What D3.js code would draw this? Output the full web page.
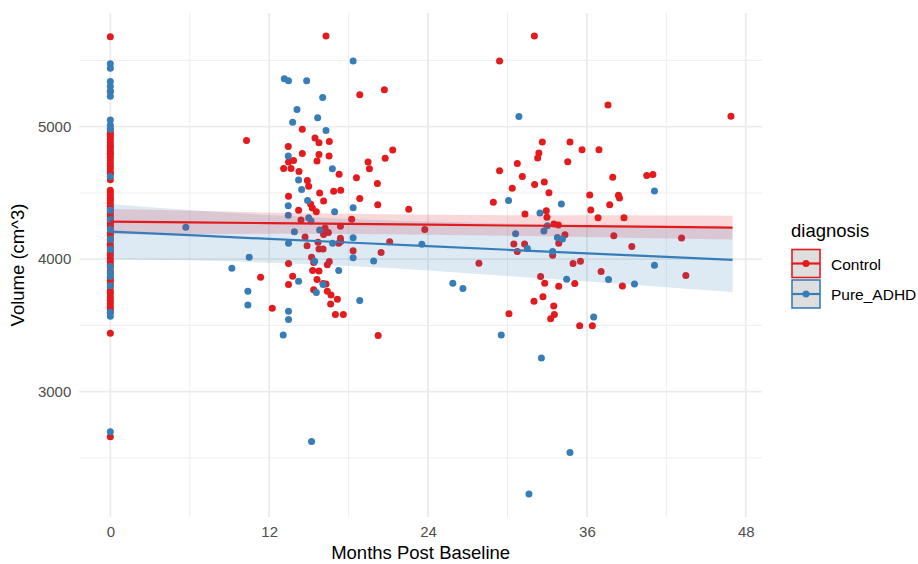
<!DOCTYPE html>
<html>
<head>
<meta charset="utf-8">
<script src="https://cdn.jsdelivr.net/npm/d3@7"></script>
<style>
  body { margin: 0; background: #fff; }
  text { font-family: "Liberation Sans", Arial, Helvetica, sans-serif; }
</style>
</head>
<body>
<svg id="chart" width="918" height="564"></svg>
<script>
// ---- data ----
const xMajorTicks = [0, 12, 24, 36, 48];
const xMinorTicks = [6, 18, 30, 42];
const yMajorTicks = [3000, 4000, 5000];
const yMinorTicks = [2500, 3500, 4500, 5500];

const groups = ["Control", "Pure_ADHD"];
const groupColors = ["#E41A1C", "#377EB8"];

// volumes of scans at month 0
const controlBaseline = [5679, 5265, 4985, 4960, 4940, 4925, 4905, 4880, 4860, 4845, 4820, 4800, 4790, 4770,
  4745, 4720, 4700, 4680, 4655, 4640, 4600, 4520, 4500, 4480, 4460, 4445, 4420, 4400, 4385, 4360, 4340,
  4320, 4300, 4280, 4265, 4250, 4230, 4200, 4185, 4160, 4140, 4110, 4090, 4070, 4050, 4030, 4005, 3985,
  3960, 3940, 3910, 3890, 3860, 3840, 3815, 3790, 3760, 3740, 3715, 3690, 3665, 3640, 3620, 3600, 3440, 2660];
const adhdBaseline = [5475, 5440, 5340, 5305, 5270, 5230, 5050, 5010, 4980, 4623, 4370, 4300, 4225, 4150,
  4075, 3945, 3900, 3870, 3800, 3600, 3570, 2698];

// follow-up scans
const controlMonths = [16.29, 18.84, 14.50, 10.29, 15.46, 15.76, 16.54, 13.44, 14.50, 15.76, 16.52, 15.61, 13.46,
  13.84, 13.09, 13.65, 14.25, 17.28, 19.47, 19.57, 18.59, 14.88, 14.98, 20.17, 15.81, 16.87, 17.40, 16.11,
  18.84, 13.46, 20.20, 15.13, 15.26, 15.56, 14.22, 14.40, 18.23, 17.38, 16.22, 16.47, 16.11, 14.71, 17.38,
  14.86, 15.69, 17.25, 17.40, 15.76, 16.07, 18.34, 20.45, 15.20, 15.36, 13.46, 16.39, 16.54, 15.28, 15.76,
  11.35, 13.77, 15.61, 13.46, 16.29, 16.07, 15.36, 16.39, 16.67, 17.15, 16.64, 12.23, 17.00, 17.60, 20.23,
  20.70, 20.76, 21.33, 22.54, 23.75, 21.10,
  32.03, 29.40, 37.59, 32.63, 34.72, 32.37, 32.28, 35.63, 36.91, 34.55, 30.74, 29.40, 31.12, 32.78, 32.05,
  37.95, 40.52, 40.98, 30.36, 33.13, 36.21, 38.38, 38.46, 28.93, 37.72, 31.32, 32.93, 32.98, 36.29, 36.84,
  38.80, 33.51, 33.84, 34.34, 38.03, 43.15, 33.87, 39.39, 30.48, 31.29, 30.74, 33.41, 27.84, 34.95, 35.51,
  43.47, 37.07, 32.50, 32.81, 33.87, 35.08, 38.68, 32.68, 32.00, 33.49, 33.54, 33.26, 30.11, 35.45, 36.41,
  46.88];
const controlVolume = [5685, 5240, 4980, 4896, 4914, 4879, 4889, 4851, 4798, 4790, 4778, 4740, 4733,
  4745, 4684, 4684, 4661, 4641, 4733, 4682, 4614, 4593, 4551, 4571, 4500, 4513, 4521, 4439,
  4457, 4475, 4411, 4417, 4386, 4358, 4369, 4295, 4301, 4248, 4235, 4202, 4187, 4167, 4157,
  4101, 4127, 4121, 4134, 4076, 4076, 4063, 4050, 4015, 3975, 3967, 3957, 3983, 3914, 3911,
  3864, 3871, 3846, 3808, 3813, 3816, 3770, 3758, 3730, 3697, 3662, 3629, 3583, 3583, 3424,
  5279, 4762, 4824, 4377, 4223, 4132,
  5685, 5495, 5164, 4884, 4884, 4801, 4763, 4826, 4826, 4735, 4722, 4667, 4624, 4583, 4563,
  4619, 4631, 4639, 4536, 4502, 4485, 4483, 4462, 4430, 4411, 4341, 4366, 4316, 4371, 4313,
  4313, 4265, 4258, 4184, 4177, 4159, 4121, 4096, 4114, 4114, 4058, 4030, 3970, 3967, 3985,
  3877, 3907, 3869, 3818, 3795, 3816, 3798, 3717, 3682, 3646, 3583, 3551, 3589, 3498, 3498,
  5078];

const adhdMonths = [18.34, 13.14, 13.46, 14.83, 16.04, 14.10, 15.66, 13.77, 16.29, 13.44, 16.77, 14.22, 14.45,
  14.90, 13.44, 18.34, 16.94, 13.44, 14.98, 15.16, 5.70, 13.90, 15.81, 18.34, 13.46, 16.79, 10.49, 18.34,
  19.89, 15.43, 9.18, 17.25, 14.22, 16.07, 10.39, 15.56, 18.84, 10.39, 13.46, 13.46, 13.06, 15.20, 23.53,
  30.86, 41.10, 30.08, 34.07, 32.45, 33.01, 32.75, 30.61, 33.77, 34.15, 31.50, 33.41, 41.10, 37.63, 25.87,
  26.63, 34.47, 39.59, 36.51, 29.53, 32.56, 34.72, 31.62];
const adhdVolume = [5495, 5361, 5346, 5346, 5220, 5129, 5068, 5033, 4972, 4778, 4682, 4598, 4525,
  4442, 4404, 4389, 4358, 4331, 4313, 4288, 4240, 4207, 4220, 4162, 4121, 4121, 4015, 4010,
  3987, 3985, 3932, 3914, 3833, 3808, 3758, 3748, 3689, 3654, 3606, 3545, 3427, 2624, 4112,
  5076, 4514, 4442, 4417, 4348, 4252, 4212, 4192, 4164, 4152, 4081, 4058, 3955, 3846, 3818,
  3778, 3848, 3813, 3563, 3427, 3255, 2540, 2227];

// fitted trend lines and their 95% bands
const fitMonths   = [0, 6, 12, 18, 24, 30, 36, 42, 47];
const controlFit  = [4283, 4277, 4272, 4266, 4260, 4254, 4249, 4243, 4238];
const controlLow  = [4188, 4189, 4192, 4190, 4184, 4176, 4167, 4156, 4148];
const controlHigh = [4378, 4365, 4352, 4342, 4336, 4332, 4331, 4330, 4328];
const adhdFit     = [4208, 4181, 4153, 4126, 4099, 4071, 4044, 4017, 3994];
const adhdLow     = [3999, 3991, 3973, 3948, 3914, 3873, 3832, 3789, 3753];
const adhdHigh    = [4417, 4371, 4333, 4304, 4284, 4269, 4256, 4245, 4235];

// ---- assemble rows ----
function rows(baseline, months, vols, g) {
  const out = baseline.map(v => ({month: 0, volume: v, diagnosis: g}));
  months.forEach((m, i) => out.push({month: m, volume: vols[i], diagnosis: g}));
  return out;
}
const control = rows(controlBaseline, controlMonths, controlVolume, "Control");
const adhd = rows(adhdBaseline, adhdMonths, adhdVolume, "Pure_ADHD");
const data = control.concat(adhd);

const smooths = [
  fitMonths.map((m, i) => ({x: m, y: controlFit[i], lo: controlLow[i], hi: controlHigh[i]})),
  fitMonths.map((m, i) => ({x: m, y: adhdFit[i], lo: adhdLow[i], hi: adhdHigh[i]}))
];

const svg = d3.select("#chart");
const panel = {left: 79.3, right: 762, top: 13, bottom: 517};

// ggplot-like 5% expansion
function expanded(ext) {
  const pad = (ext[1] - ext[0]) * 0.05;
  return [ext[0] - pad, ext[1] + pad];
}
const x = d3.scaleLinear().domain(expanded(d3.extent(data, d => d.month))).range([panel.left, panel.right]);
const y = d3.scaleLinear().domain(expanded(d3.extent(data, d => d.volume))).range([panel.bottom, panel.top]);
const color = d3.scaleOrdinal().domain(groups).range(groupColors);

// grid
const grid = svg.append("g");
grid.selectAll(".xmin").data(xMinorTicks).join("line")
  .attr("x1", d => x(d)).attr("x2", d => x(d)).attr("y1", panel.top).attr("y2", panel.bottom)
  .attr("stroke", "#ebebeb").attr("stroke-width", 0.9);
grid.selectAll(".ymin").data(yMinorTicks).join("line")
  .attr("y1", d => y(d)).attr("y2", d => y(d)).attr("x1", panel.left).attr("x2", panel.right)
  .attr("stroke", "#ebebeb").attr("stroke-width", 0.9);
grid.selectAll(".xmaj").data(xMajorTicks).join("line")
  .attr("x1", d => x(d)).attr("x2", d => x(d)).attr("y1", panel.top).attr("y2", panel.bottom)
  .attr("stroke", "#ebebeb").attr("stroke-width", 1.8);
grid.selectAll(".ymaj").data(yMajorTicks).join("line")
  .attr("y1", d => y(d)).attr("y2", d => y(d)).attr("x1", panel.left).attr("x2", panel.right)
  .attr("stroke", "#ebebeb").attr("stroke-width", 1.8);

// axes (text only, theme_minimal)
const xAxis = svg.append("g").attr("transform", `translate(0,${panel.bottom + 2})`)
  .call(d3.axisBottom(x).tickValues(xMajorTicks).tickSize(0).tickPadding(7));
const yAxis = svg.append("g").attr("transform", `translate(${panel.left - 4},0)`)
  .call(d3.axisLeft(y).tickValues(yMajorTicks).tickSize(0).tickPadding(4).tickFormat(d3.format("d")));
[xAxis, yAxis].forEach(a => {
  a.select(".domain").remove();
  a.selectAll("text").attr("fill", "#4d4d4d").style("font-size", "15px")
    .style("font-family", "'Liberation Sans', Arial, sans-serif");
});

// points
svg.append("g").selectAll("circle").data(data).join("circle")
  .attr("cx", d => x(d.month)).attr("cy", d => y(d.volume)).attr("r", 3.5)
  .attr("fill", d => color(d.diagnosis));

// trend lines with bands
const smooth = svg.append("g");
smooths.forEach((f, i) => {
  smooth.append("path").datum(f)
    .attr("d", d3.area().curve(d3.curveMonotoneX).x(d => x(d.x)).y0(d => y(d.lo)).y1(d => y(d.hi)))
    .attr("fill", groupColors[i]).attr("fill-opacity", 0.17);
});
smooths.forEach((f, i) => {
  smooth.append("path").datum(f)
    .attr("d", d3.line().x(d => x(d.x)).y(d => y(d.y)))
    .attr("fill", "none").attr("stroke", groupColors[i]).attr("stroke-width", 2.2);
});

// axis titles
svg.append("text").attr("x", (panel.left + panel.right) / 2).attr("y", 559)
  .attr("text-anchor", "middle").style("font-size", "18.5px").attr("fill", "#000")
  .text("Months Post Baseline");
svg.append("text").attr("transform", `translate(24,${(panel.top + panel.bottom) / 2}) rotate(-90)`)
  .attr("text-anchor", "middle").style("font-size", "18.5px").attr("fill", "#000")
  .text("Volume (cm^3)");

// legend
const legend = svg.append("g").attr("transform", "translate(791,0)");
legend.append("text").attr("x", 0).attr("y", 237).style("font-size", "18.5px").text("diagnosis");
groups.forEach((g, i) => {
  const top = 249.5 + i * 30.5;
  const key = legend.append("g").attr("transform", `translate(1,${top})`);
  key.append("rect").attr("width", 28).attr("height", 28).attr("fill", "#dedede")
    .attr("stroke", groupColors[i]).attr("stroke-width", 1.6);
  key.append("line").attr("x1", 0).attr("x2", 28).attr("y1", 14).attr("y2", 14)
    .attr("stroke", groupColors[i]).attr("stroke-width", 2.2);
  key.append("circle").attr("cx", 14).attr("cy", 14).attr("r", 3.5).attr("fill", groupColors[i]);
  legend.append("text").attr("x", 40).attr("y", top + 20).style("font-size", "15.5px")
    .attr("fill", "#000").text(g);
});
</script>
</body>
</html>
